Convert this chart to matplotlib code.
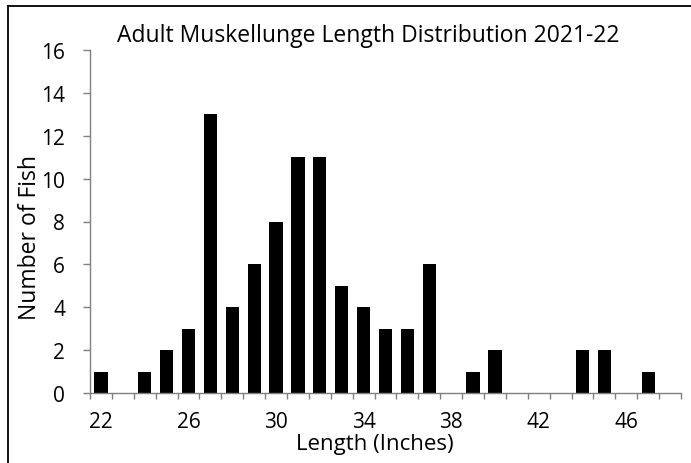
import matplotlib
matplotlib.use("Agg")
import matplotlib.pyplot as plt
from matplotlib.lines import Line2D

lengths = list(range(22, 49))
counts = [1, 0, 1, 2, 3, 13, 4, 6, 8, 11, 11, 5, 4, 3, 3, 6, 0, 1, 2, 0, 0, 0, 2, 2, 0, 1, 0]
x_tick_labels = [22, 26, 30, 34, 38, 42, 46]
y_ticks = [0, 2, 4, 6, 8, 10, 12, 14, 16]

plt.rcParams['font.family'] = ['Open Sans', 'DejaVu Sans']

fig = plt.figure(figsize=(6.91, 4.64), dpi=100)
ax = fig.add_axes([90/691, 70/464, 591/691, 343/464])

ax.bar(lengths, counts, width=0.6, color='black')
ax.set_xlim(21.5, 48.5)
ax.set_ylim(0, 16)
ax.set_yticks(y_ticks)
ax.set_xticks(x_tick_labels)
ax.set_xticks([l - 0.5 for l in lengths] + [48.5], minor=True)
ax.tick_params(axis='x', which='major', length=0, pad=13, labelsize=15)
ax.tick_params(axis='x', which='minor', length=4.5, color='#808080', width=1, direction='out')
ax.tick_params(axis='y', length=5, color='#808080', width=1, labelsize=15, pad=13)

for s in ['top', 'right']:
    ax.spines[s].set_visible(False)
for s in ['left', 'bottom']:
    ax.spines[s].set_color('#808080')
    ax.spines[s].set_linewidth(1)

ax.set_xlabel('Length (Inches)', fontsize=16)
ax.xaxis.set_label_coords(0.482, -0.118)
ax.set_ylabel('Number of Fish', fontsize=16.5, va='center')
ax.yaxis.set_label_coords(-0.102, 0.455)
fig.text(368/691, 1 - 36/464, 'Adult Muskellunge Length Distribution 2021-22', ha='center', va='center', fontsize=16.5)

fig.add_artist(Line2D([8/691, 8/691], [0, 1 - 7/464], transform=fig.transFigure, color='black', lw=1.3))
fig.add_artist(Line2D([8/691, 1], [1 - 7/464, 1 - 7/464], transform=fig.transFigure, color='black', lw=1.3))

fig.savefig('out.png', dpi=100)
